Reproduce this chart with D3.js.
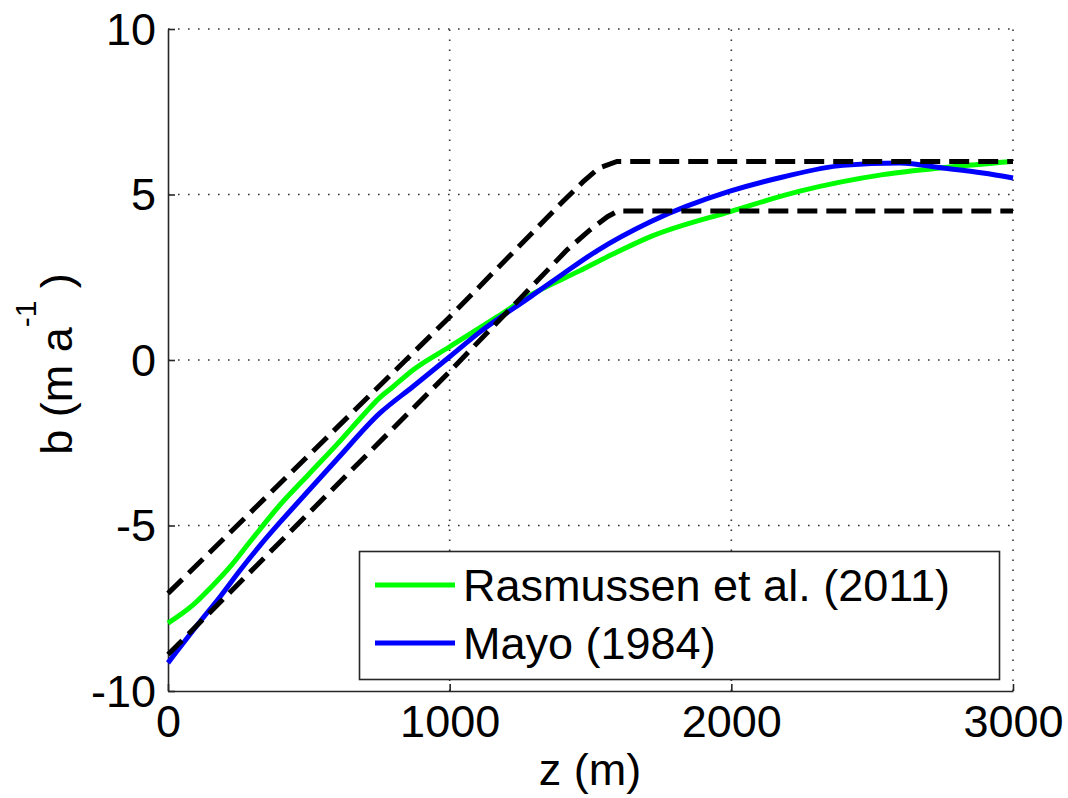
<!DOCTYPE html>
<html><head><meta charset="utf-8">
<script src="https://cdn.jsdelivr.net/npm/d3@7"></script>
<style>body{margin:0;background:#fff}svg{display:block}text{font-family:"Liberation Sans",Arial,sans-serif;fill:#000}</style>
</head><body>
<svg id="c" width="1068" height="798"></svg>
<script>
// ---- data ----
const xTicks = [0, 1000, 2000, 3000];
const yTicks = [-10, -5, 0, 5, 10];
const seriesNames = ["Rasmussen et al. (2011)", "Mayo (1984)"];
const rasmussenZ = [0, 89, 149, 220, 291, 327, 387, 500, 600, 700, 750, 800, 870, 1000, 1168, 1285, 1463, 1580, 1711, 2002, 2243, 2538, 2776, 2996];
const rasmussenB = [-7.95, -7.4, -6.9, -6.25, -5.49, -5.11, -4.48, -3.45, -2.55, -1.6, -1.15, -0.8, -0.3, 0.4, 1.3, 1.95, 2.7, 3.2, 3.72, 4.5, 5.1, 5.6, 5.83, 6.0];
const mayoZ = [0, 114, 185, 256, 327, 398, 469, 600, 753, 870, 1000, 1108, 1285, 1402, 1523, 1711, 1995, 2183, 2396, 2598, 2751, 2893, 3000];
const mayoB = [-9.15, -7.9, -7.15, -6.35, -5.6, -4.9, -4.23, -3.0, -1.6, -0.8, 0.1, 0.85, 1.9, 2.6, 3.3, 4.17, 5.1, 5.53, 5.88, 5.95, 5.8, 5.65, 5.5];
const upperZ = [0, 1000, 1400, 1473, 1530, 1594, 3000];
const upperB = [-7.05, 1.3, 4.77, 5.38, 5.8, 6.0, 6.0];
const lowerZ = [0, 1000, 1416, 1498, 1560, 1597, 3000];
const lowerB = [-8.9, -0.35, 3.32, 3.93, 4.33, 4.5, 4.5];

// ---- layout ----
const svg = d3.select("#c");
const L = 168, R = 1013, T = 29, B = 691;
const x = d3.scaleLinear().domain([0, 3000]).range([L, R]);
const y = d3.scaleLinear().domain([-10, 10]).range([B, T]);
const font = 45;

// grid
const g = svg.append("g");
g.selectAll(".gx").data(xTicks.filter(d => d > 0)).enter().append("line")
  .attr("x1", d => x(d)).attr("x2", d => x(d)).attr("y1", B).attr("y2", T)
  .attr("stroke", "#333").attr("stroke-width", 1.6).attr("stroke-dasharray", "1.6,8.4");
g.selectAll(".gy").data(yTicks.filter(d => d > -10)).enter().append("line")
  .attr("y1", d => y(d)).attr("y2", d => y(d)).attr("x1", L).attr("x2", R)
  .attr("stroke", "#333").attr("stroke-width", 1.6).attr("stroke-dasharray", "1.6,8.4");

// axes (ticks inside)
const fmt = d => String(d);
const ax = svg.append("g").attr("transform", `translate(0,${B})`)
  .call(d3.axisBottom(x).tickValues(xTicks).tickFormat(fmt).tickSizeInner(-7).tickSizeOuter(0).tickPadding(16));
const ay = svg.append("g").attr("transform", `translate(${L},0)`)
  .call(d3.axisLeft(y).tickValues(yTicks).tickFormat(fmt).tickSizeInner(-7).tickSizeOuter(0).tickPadding(12));
[ax, ay].forEach(a => {
  a.select(".domain").attr("stroke", "#262626").attr("stroke-width", 1.6);
  a.selectAll(".tick line").attr("stroke", "#262626").attr("stroke-width", 1.6);
  a.selectAll(".tick text").attr("font-size", font).attr("font-family", '"Liberation Sans",Arial,sans-serif').attr("fill", "#000");
});
ax.selectAll(".tick text").attr("dy", null).attr("y", 0)
  .attr("transform", "translate(0,46)");
ay.selectAll(".tick text").attr("dy", null).attr("transform", "translate(0,15)").attr("x", -12);

// lines
const line = d3.line().x(d => x(d[0])).y(d => y(d[1])).curve(d3.curveMonotoneX);
const lineLin = d3.line().x(d => x(d[0])).y(d => y(d[1]));
const zip = (a, b) => a.map((v, i) => [v, b[i]]);
svg.append("path").attr("d", line(zip(rasmussenZ, rasmussenB))).attr("fill", "none")
  .attr("stroke", "#00ff00").attr("stroke-width", 5);
svg.append("path").attr("d", line(zip(mayoZ, mayoB))).attr("fill", "none")
  .attr("stroke", "#0000ff").attr("stroke-width", 5);
[zip(upperZ, upperB), zip(lowerZ, lowerB)].forEach(d => {
  svg.append("path").attr("d", lineLin(d)).attr("fill", "none")
    .attr("stroke", "#000").attr("stroke-width", 5).attr("stroke-dasharray", "20,9");
});

// legend
const lg = svg.append("g");
lg.append("rect").attr("x", 359.5).attr("y", 551.5).attr("width", 640).attr("height", 128)
  .attr("fill", "#fff").attr("stroke", "#262626").attr("stroke-width", 1.6);
const lcol = ["#00ff00", "#0000ff"];
const ly = [585, 643];
seriesNames.forEach((n, i) => {
  lg.append("line").attr("x1", 375).attr("x2", 455).attr("y1", ly[i]).attr("y2", ly[i])
    .attr("stroke", lcol[i]).attr("stroke-width", 5);
  lg.append("text").attr("x", 463).attr("y", ly[i] + 16).attr("font-size", font).text(n);
});

// axis labels
svg.append("text").attr("x", 590).attr("y", 785).attr("text-anchor", "middle")
  .attr("font-size", font).text("z (m)");
const yl = svg.append("text").attr("transform", "translate(72,364) rotate(-90)")
  .attr("text-anchor", "middle").attr("font-size", font);
yl.append("tspan").text("b (m a");
yl.append("tspan").attr("font-size", 30).attr("dy", -36).text("-1");
yl.append("tspan").attr("dy", 36).text(" )");
</script>
</body></html>
